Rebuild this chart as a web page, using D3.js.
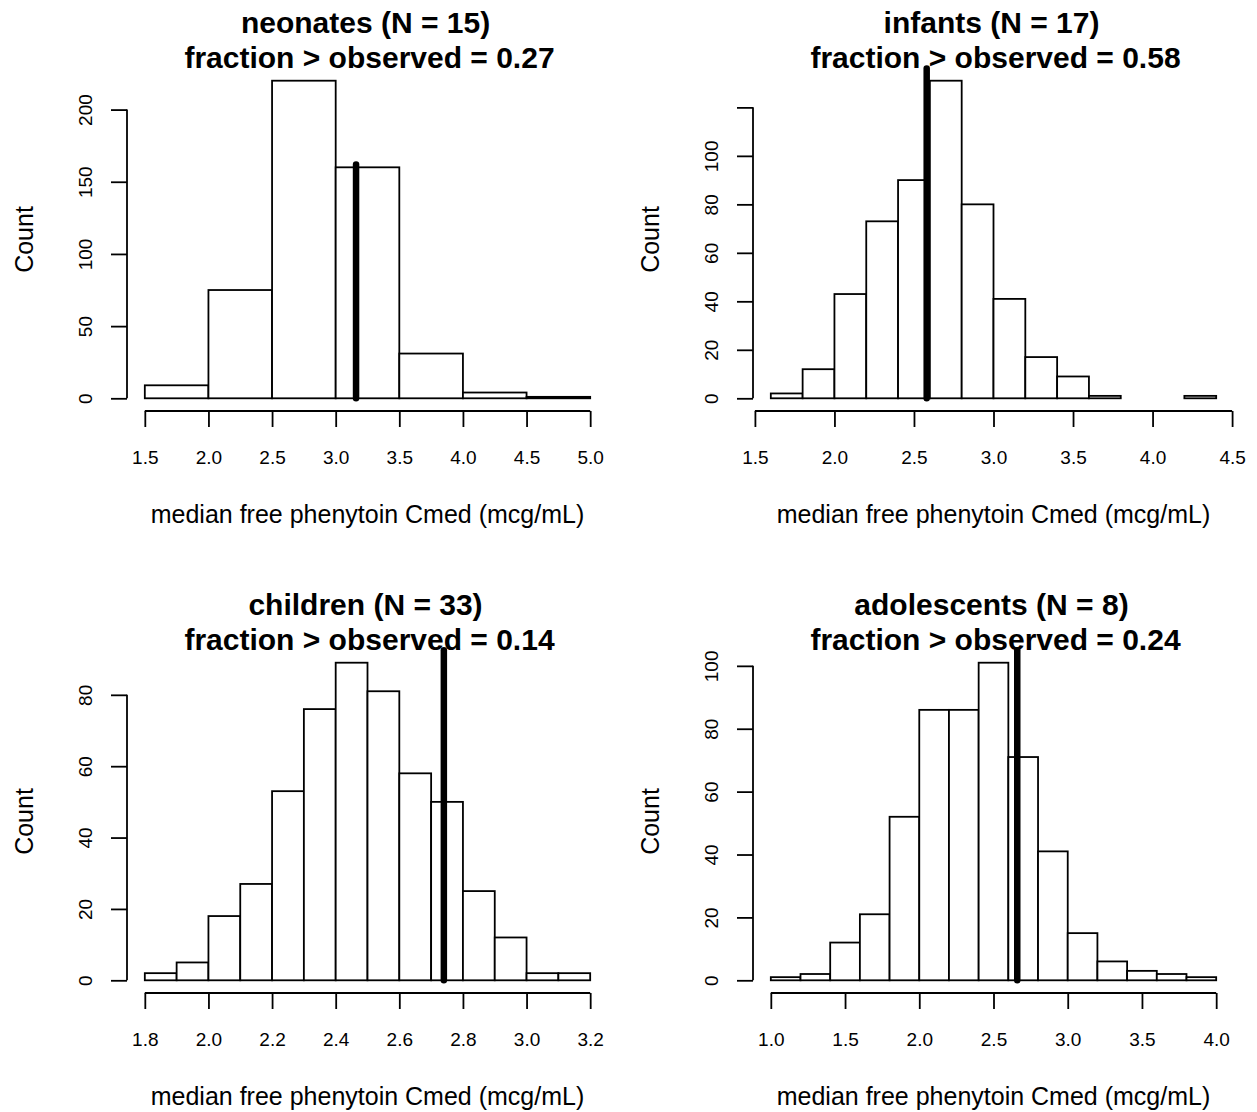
<!DOCTYPE html>
<html><head><meta charset="utf-8">
<script src="https://cdn.jsdelivr.net/npm/d3@7"></script>
<style>
body{margin:0;background:#fff}
svg{display:block}
text{font-family:"Liberation Sans",Arial,sans-serif;fill:#000}
</style>
</head><body><svg id="c" width="1257" height="1112"></svg>
<script>
// ---- data ----
const groupNames = ["neonates", "infants", "children", "adolescents"];
const groupN = [15, 17, 33, 8];
const fractionAbove = ["0.27", "0.58", "0.14", "0.24"];

const neonatesBreaks = [1.5, 2.0, 2.5, 3.0, 3.5, 4.0, 4.5, 5.0];
const neonatesCounts = [9, 75, 220, 160, 31, 4, 1];
const infantsBreaks = [1.6, 1.8, 2.0, 2.2, 2.4, 2.6, 2.8, 3.0, 3.2, 3.4, 3.6, 3.8, 4.0, 4.2, 4.4];
const infantsCounts = [2, 12, 43, 73, 90, 131, 80, 41, 17, 9, 1, 0, 0, 1];
const childrenBreaks = [1.8, 1.9, 2.0, 2.1, 2.2, 2.3, 2.4, 2.5, 2.6, 2.7, 2.8, 2.9, 3.0, 3.1, 3.2];
const childrenCounts = [2, 5, 18, 27, 53, 76, 89, 81, 58, 50, 25, 12, 2, 2];
const adolescentsBreaks = [1.0, 1.2, 1.4, 1.6, 1.8, 2.0, 2.2, 2.4, 2.6, 2.8, 3.0, 3.2, 3.4, 3.6, 3.8, 4.0];
const adolescentsCounts = [1, 2, 12, 21, 52, 86, 86, 101, 71, 41, 15, 6, 3, 2, 1];

const observedValues = [3.16, 2.58, 2.74, 2.66];
const observedLineTop = [162, 136, 92.5, 105];

const neonatesXTicks = [1.5, 2.0, 2.5, 3.0, 3.5, 4.0, 4.5, 5.0];
const infantsXTicks = [1.5, 2.0, 2.5, 3.0, 3.5, 4.0, 4.5];
const childrenXTicks = [1.8, 2.0, 2.2, 2.4, 2.6, 2.8, 3.0, 3.2];
const adolescentsXTicks = [1.0, 1.5, 2.0, 2.5, 3.0, 3.5, 4.0];

const neonatesYTicks = [0, 50, 100, 150, 200];
const neonatesYLabels = ["0", "50", "100", "150", "200"];
const infantsYTicks = [0, 20, 40, 60, 80, 100, 120];
const infantsYLabels = ["0", "20", "40", "60", "80", "100", ""];
const childrenYTicks = [0, 20, 40, 60, 80];
const childrenYLabels = ["0", "20", "40", "60", "80"];
const adolescentsYTicks = [0, 20, 40, 60, 80, 100];
const adolescentsYLabels = ["0", "20", "40", "60", "80", "100"];

const xAxisTitle = "median free phenytoin Cmed (mcg/mL)";
const yAxisTitle = "Count";

// ---- assembly ----
const panels = [
  {breaks: neonatesBreaks, counts: neonatesCounts, xt: neonatesXTicks, yt: neonatesYTicks, yl: neonatesYLabels},
  {breaks: infantsBreaks, counts: infantsCounts, xt: infantsXTicks, yt: infantsYTicks, yl: infantsYLabels},
  {breaks: childrenBreaks, counts: childrenCounts, xt: childrenXTicks, yt: childrenYTicks, yl: childrenYLabels},
  {breaks: adolescentsBreaks, counts: adolescentsCounts, xt: adolescentsXTicks, yt: adolescentsYTicks, yl: adolescentsYLabels}
];

const svg = d3.select("#c");
const colOffset = [0, 626], rowOffset = [0, 582];
const L = 127, R = 608, T = 68, B = 411;
const SW = 1.8;

panels.forEach((p, i) => {
  const g = svg.append("g")
    .attr("transform", `translate(${colOffset[i % 2]},${rowOffset[Math.floor(i / 2)]})`);
  const xmin = p.breaks[0], xmax = p.breaks[p.breaks.length - 1];
  const xpad = 0.04 * (xmax - xmin);
  const ymax = d3.max(p.counts);
  const x = d3.scaleLinear().domain([xmin - xpad, xmax + xpad]).range([L, R]);
  const y = d3.scaleLinear().domain([-0.04 * ymax, ymax * 1.04]).range([B, T]);

  // bars
  const bins = p.counts.map((c, k) => ({x0: p.breaks[k], x1: p.breaks[k + 1], c}))
    .filter(d => d.c > 0);
  g.selectAll("rect.bar").data(bins).join("rect")
    .attr("class", "bar")
    .attr("x", d => x(d.x0))
    .attr("width", d => x(d.x1) - x(d.x0))
    .attr("y", d => y(d.c))
    .attr("height", d => y(0) - y(d.c))
    .attr("fill", "#fff")
    .attr("stroke", "#000")
    .attr("stroke-width", SW);

  // observed line
  g.append("line")
    .attr("x1", x(observedValues[i])).attr("x2", x(observedValues[i]))
    .attr("y1", y(0)).attr("y2", y(observedLineTop[i]))
    .attr("stroke", "#000").attr("stroke-width", 6.5).attr("stroke-linecap", "round");

  // x axis
  const xa = g.append("g").attr("transform", `translate(0,${B})`)
    .call(d3.axisBottom(x).tickValues(p.xt).tickFormat(d3.format(".1f")).tickSize(16).tickSizeOuter(0));
  xa.select(".domain").remove();
  xa.selectAll(".tick line").attr("stroke", "#000").attr("stroke-width", SW);
  xa.selectAll(".tick text").attr("y", 53).attr("dy", null)
    .style("font-size", "19px").style("font-family", '"Liberation Sans",Arial,sans-serif').attr("fill", "#000");
  xa.append("line")
    .attr("x1", x(p.xt[0])).attr("x2", x(p.xt[p.xt.length - 1]))
    .attr("y1", 0).attr("y2", 0)
    .attr("stroke", "#000").attr("stroke-width", SW);

  // y axis
  const ya = g.append("g").attr("transform", `translate(${L},0)`)
    .call(d3.axisLeft(y).tickValues(p.yt).tickFormat((d, k) => p.yl[k]).tickSize(16).tickSizeOuter(0));
  ya.select(".domain").remove();
  ya.selectAll(".tick line").attr("stroke", "#000").attr("stroke-width", SW);
  ya.selectAll(".tick text")
    .attr("x", 0).attr("y", -35).attr("dy", null)
    .attr("transform", "rotate(-90)")
    .attr("text-anchor", "middle")
    .style("font-size", "19px").style("font-family", '"Liberation Sans",Arial,sans-serif').attr("fill", "#000");
  ya.append("line")
    .attr("x1", 0).attr("x2", 0)
    .attr("y1", y(p.yt[0])).attr("y2", y(p.yt[p.yt.length - 1]))
    .attr("stroke", "#000").attr("stroke-width", SW);

  // titles
  const cx = (L + R) / 2;
  g.append("text").attr("x", cx - 2).attr("y", T - 35).attr("text-anchor", "middle")
    .style("font-size", "30px").style("font-weight", "bold")
    .text(`${groupNames[i]} (N = ${groupN[i]})`);
  g.append("text").attr("x", cx + 2).attr("y", T).attr("text-anchor", "middle")
    .style("font-size", "30px").style("font-weight", "bold")
    .text(`fraction > observed = ${fractionAbove[i]}`);

  // axis titles
  g.append("text").attr("x", cx).attr("y", B + 112).attr("text-anchor", "middle")
    .style("font-size", "25px").text(xAxisTitle);
  g.append("text")
    .attr("transform", `translate(${L - 94},${(T + B) / 2}) rotate(-90)`)
    .attr("text-anchor", "middle")
    .style("font-size", "25px").text(yAxisTitle);
});
</script>
</body></html>
